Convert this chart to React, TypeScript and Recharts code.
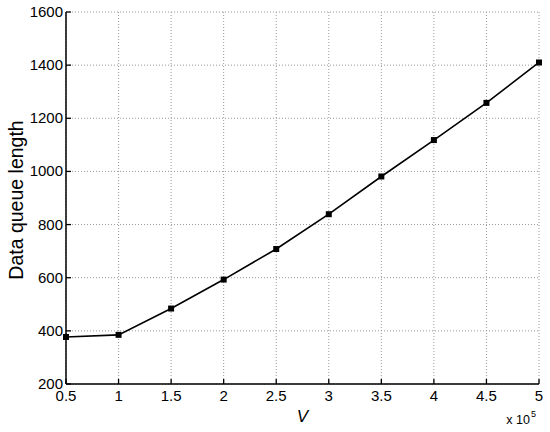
import { LineChart, Line, XAxis, YAxis, CartesianGrid } from "recharts";

const vValues = [50000, 100000, 150000, 200000, 250000, 300000, 350000, 400000, 450000, 500000];
const queueLength = [377, 385, 484, 593, 708, 839, 981, 1118, 1258, 1410];
const xTicks = [50000, 100000, 150000, 200000, 250000, 300000, 350000, 400000, 450000, 500000];
const yTicks = [200, 400, 600, 800, 1000, 1200, 1400, 1600];

const data = vValues.map((v, i) => ({ v, q: queueLength[i] }));

const FONT = "'Liberation Sans', Arial, Helvetica, sans-serif";
const TICK = 5;

const BottomTick = (p: any) => (
  <g>
    <line x1={p.x} x2={p.x} y1={p.y} y2={p.y - TICK} stroke="#000" strokeWidth={1.3} />
    <text x={p.x} y={p.y + 17} textAnchor="middle" fontSize={15} fontFamily={FONT} fill="#000">
      {p.payload.value / 100000}
    </text>
  </g>
);

const TopTick = (p: any) => (
  <line x1={p.x} x2={p.x} y1={p.y} y2={p.y + TICK} stroke="#000" strokeWidth={1.3} />
);

const LeftTick = (p: any) => (
  <g>
    <line x1={p.x} x2={p.x + TICK} y1={p.y} y2={p.y} stroke="#000" strokeWidth={1.3} />
    <text x={p.x - 3} y={p.y + 5} textAnchor="end" fontSize={15} fontFamily={FONT} fill="#000">
      {p.payload.value}
    </text>
  </g>
);

const RightTick = (p: any) => (
  <line x1={p.x} x2={p.x - TICK} y1={p.y} y2={p.y} stroke="#000" strokeWidth={1.3} />
);

const SquareDot = (p: any) => (
  <rect key={p.index} x={p.cx - 3} y={p.cy - 3} width={6} height={6} fill="#000" />
);

const XLabel = (p: any) => {
  const vb = p.viewBox;
  const cx = vb.x + vb.width / 2;
  const right = vb.x + vb.width;
  return (
    <g fontFamily={FONT} fill="#000">
      <text x={cx} y={vb.y + 38} textAnchor="middle" fontSize={17} fontStyle="italic">V</text>
      <text x={right - 9} y={vb.y + 40} textAnchor="end" fontSize={12.5}>x 10</text>
      <text x={right - 8} y={vb.y + 33} textAnchor="start" fontSize={9}>5</text>
    </g>
  );
};

const YLabel = (p: any) => {
  const vb = p.viewBox;
  const cx = vb.x + 16;
  const cy = vb.y + vb.height / 2 + 2;
  return (
    <text
      x={cx}
      y={cy}
      transform={`rotate(-90, ${cx}, ${cy})`}
      textAnchor="middle"
      dominantBaseline="central"
      fontSize={19.5}
      fontFamily={FONT}
      fill="#000"
    >
      Data queue length
    </text>
  );
};

export default function App() {
  return (
    <div style={{ position: "absolute", left: 0, top: 0, width: 550, height: 432, background: "#fff" }}>
      <LineChart width={550} height={432} data={data} margin={{ top: 12, right: 11, left: 0, bottom: 0 }}>
        <CartesianGrid stroke="#999" strokeDasharray="1 2" />
        <XAxis
          dataKey="v"
          type="number"
          domain={[50000, 500000]}
          ticks={xTicks}
          interval={0}
          height={48}
          tickSize={0}
          tickMargin={0}
          tickLine={false}
          axisLine={{ stroke: "#000", strokeWidth: 1.5 }}
          tick={BottomTick}
          label={XLabel}
        />
        <XAxis
          xAxisId="top"
          orientation="top"
          dataKey="v"
          type="number"
          domain={[50000, 500000]}
          ticks={xTicks}
          interval={0}
          height={0}
          tickSize={0}
          tickMargin={0}
          tickLine={false}
          axisLine={{ stroke: "#000", strokeWidth: 1.5 }}
          tick={TopTick}
        />
        <YAxis
          type="number"
          domain={[200, 1600]}
          ticks={yTicks}
          interval={0}
          width={66}
          tickSize={0}
          tickMargin={0}
          tickLine={false}
          axisLine={{ stroke: "#000", strokeWidth: 1.5 }}
          tick={LeftTick}
          label={YLabel}
        />
        <YAxis
          yAxisId="right"
          orientation="right"
          type="number"
          domain={[200, 1600]}
          ticks={yTicks}
          interval={0}
          width={0}
          tickSize={0}
          tickMargin={0}
          tickLine={false}
          axisLine={{ stroke: "#000", strokeWidth: 1.5 }}
          tick={RightTick}
        />
        <Line
          dataKey="q"
          stroke="#000"
          strokeWidth={1.6}
          dot={SquareDot}
          activeDot={false}
          isAnimationActive={false}
        />
      </LineChart>
    </div>
  );
}
